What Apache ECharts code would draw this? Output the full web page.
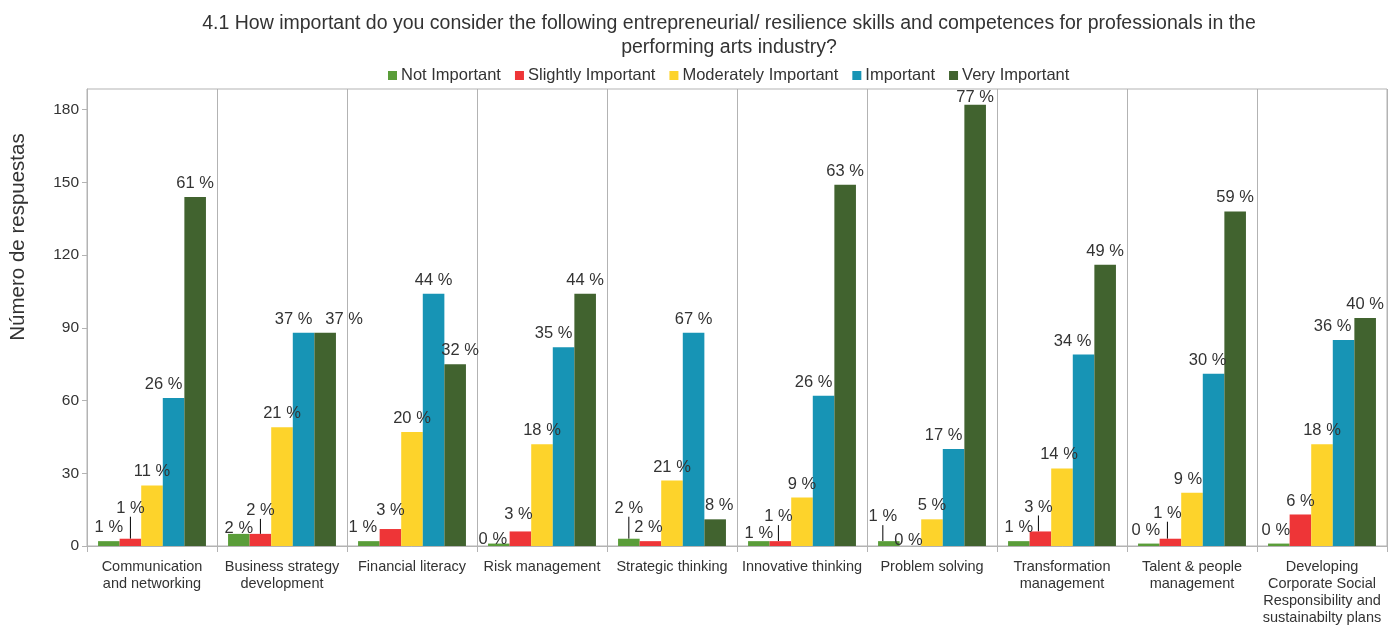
<!DOCTYPE html>
<html>
<head>
<meta charset="utf-8">
<script src="https://cdn.jsdelivr.net/npm/echarts@6/dist/echarts.min.js"></script>
<style>
  html, body { margin: 0; padding: 0; background: #fff; }
  #chart { width: 1389px; height: 633px; }
</style>
</head>
<body>
<div id="chart"></div>
<script>
// Skills asked about in question 4.1
const categories = [
  'Communication\nand networking',
  'Business strategy\ndevelopment',
  'Financial literacy',
  'Risk management',
  'Strategic thinking',
  'Innovative thinking',
  'Problem solving',
  'Transformation\nmanagement',
  'Talent & people\nmanagement',
  'Developing\nCorporate Social\nResponsibility and\nsustainabilty plans'
];

// Answer scale
const levels = ['Not Important', 'Slightly Important', 'Moderately Important', 'Important', 'Very Important'];

// Number of responses per skill, one array per answer level
const notImportant        = [2, 5, 2, 1, 3, 2, 2, 2, 1, 1];
const slightlyImportant   = [3, 5, 7, 6, 2, 2, 0, 6, 3, 13];
const moderatelyImportant = [25, 49, 47, 42, 27, 20, 11, 32, 22, 42];
const important           = [61, 88, 104, 82, 88, 62, 40, 79, 71, 85];
const veryImportant       = [144, 88, 75, 104, 11, 149, 182, 116, 138, 94];

// Value axis ticks
const yTicks = [0, 30, 60, 90, 120, 150, 180];

const seriesValues = [notImportant, slightlyImportant, moderatelyImportant, important, veryImportant];
const colors = ['#5a9d39', '#ee3537', '#fdd32b', '#1794b5', '#41632f'];

// Share of each answer within a skill's total responses
const totals = categories.map((_, i) => seriesValues.reduce((s, arr) => s + arr[i], 0));
const pct = seriesValues.map(arr => arr.map((v, i) => Math.round(v / totals[i] * 100)));

// Label nudges [dx, dy] so crowded labels don't collide
const nudge = [
  [[0,0],[0,8],[-6,0],[-6,9],[0,-17],[0,6],[-6,-11],[0,0],[-3,0],[-3,0]],
  [[0,-17],[0,-10],[0,-5],[-2,-4],[-2,0],[-2,-11],[-2,8],[-2,-11],[-3,-12],[0,0]],
  [[0,0],[0,0],[0,0],[0,0],[0,0],[0,0],[0,0],[-3,0],[-4,0],[0,0]],
  [[-10,0],[-10,0],[0,0],[-10,0],[0,0],[-10,0],[-10,0],[-11,0],[-6,0],[-11,0]],
  [[0,0],[19,0],[5,0],[0,0],[4,0],[0,0],[0,6],[0,0],[0,0],[0,0]]
];
// Labels lifted off their bar get a guide line
const guided = { 0: [4, 6], 1: [0, 1, 5, 7, 8] };

const FONT = 'Liberation Sans, Arial, sans-serif';

const series = seriesValues.map((arr, s) => ({
  name: levels[s],
  type: 'bar',
  barGap: '0%',
  barCategoryGap: '17%',
  itemStyle: { color: colors[s] },
  data: arr.map((v, i) => {
    const item = { value: v };
    if (guided[s] && guided[s].includes(i)) {
      item.labelLine = { show: true, lineStyle: { color: '#000', width: 1 } };
    }
    return item;
  }),
  label: {
    show: true,
    position: 'top',
    distance: 5,
    fontFamily: FONT,
    fontSize: 16.5,
    color: '#333',
    formatter: p => pct[s][p.dataIndex] + ' %'
  },
  labelLayout: p => {
    const o = nudge[p.seriesIndex][p.dataIndex];
    return { dx: o[0], dy: o[1] };
  },
  emphasis: { disabled: true }
}));

const chart = echarts.init(document.getElementById('chart'), null, { renderer: 'canvas' });
chart.setOption({
  backgroundColor: '#fff',
  animation: false,
  title: {
    text: '4.1 How important do you consider the following entrepreneurial/ resilience skills and competences for professionals in the\nperforming arts industry?',
    left: 724,
    textAlign: 'center',
    top: 7,
    textStyle: { fontFamily: FONT, fontSize: 19.5, fontWeight: 'normal', color: '#333', lineHeight: 24 }
  },
  legend: {
    data: levels,
    left: 383,
    top: 62,
    icon: 'rect',
    itemWidth: 9,
    itemHeight: 9,
    itemGap: 14,
    textStyle: { fontFamily: FONT, fontSize: 16.5, color: '#333', padding: [0, 0, 0, -1] }
  },
  graphic: [{
    type: 'text',
    x: 18,
    y: 237,
    rotation: Math.PI / 2,
    style: {
      text: 'Número de respuestas',
      font: '20.5px ' + FONT,
      fill: '#333',
      align: 'center',
      verticalAlign: 'middle'
    }
  }],
  grid: {
    left: 87,
    right: 2,
    top: 89,
    bottom: 87,
    show: true,
    borderColor: '#b3b3b3',
    borderWidth: 1
  },
  xAxis: {
    type: 'category',
    data: categories,
    axisLine: { lineStyle: { color: '#b3b3b3' } },
    axisTick: { show: true, length: 6, lineStyle: { color: '#b3b3b3' } },
    splitLine: { show: true, lineStyle: { color: '#b3b3b3' } },
    axisLabel: {
      interval: 0,
      margin: 12,
      fontFamily: FONT,
      fontSize: 14.5,
      lineHeight: 17,
      color: '#333'
    }
  },
  yAxis: {
    type: 'value',
    min: yTicks[0],
    max: 188.5,
    interval: yTicks[1] - yTicks[0],
    axisLine: { show: true, lineStyle: { color: '#b3b3b3' } },
    axisTick: { show: true, length: 5, lineStyle: { color: '#b3b3b3' } },
    splitLine: { show: false },
    axisLabel: {
      showMaxLabel: false,
      margin: 8,
      fontFamily: FONT,
      fontSize: 15.5,
      color: '#333',
      formatter: v => (yTicks.includes(v) ? String(v) : '')
    }
  },
  series: series
});
</script>
</body>
</html>
